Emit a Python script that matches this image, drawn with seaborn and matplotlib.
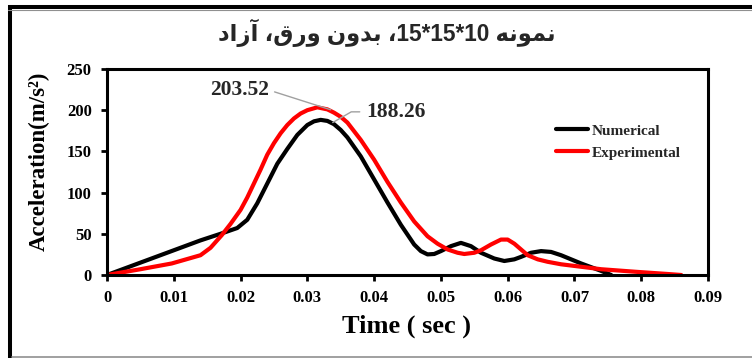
import matplotlib
matplotlib.use("Agg")
import matplotlib.pyplot as plt
import numpy as np
import pandas as pd
import seaborn as sns
from matplotlib.lines import Line2D

# ---- data -----------------------------------------------------------------
num_t = [0, 0.005, 0.01, 0.014, 0.017, 0.0195, 0.021, 0.0225, 0.024, 0.0255,
         0.027, 0.0285, 0.030, 0.031, 0.032, 0.033, 0.034, 0.035, 0.036,
         0.038, 0.040, 0.042, 0.044, 0.046, 0.047, 0.048, 0.049, 0.050,
         0.0515, 0.053, 0.0545, 0.056, 0.058, 0.0595, 0.061, 0.062, 0.0635,
         0.065, 0.0665, 0.068, 0.071, 0.074, 0.0755]
num_a = [0, 15, 30, 42, 50, 57, 67, 87, 111, 135,
         153, 170, 182, 186.5, 188.26, 187, 183, 176, 167,
         144, 116, 88, 61, 37, 29, 25, 25.5, 29,
         35, 39, 35, 27, 20, 17, 19, 22, 27,
         29, 28, 24, 14, 5, 0]

exp_t = [0, 0.005, 0.0097, 0.014, 0.0155, 0.0172, 0.0185, 0.020, 0.021,
         0.022, 0.023, 0.024, 0.025, 0.026, 0.027, 0.028, 0.029, 0.030,
         0.0315, 0.033, 0.034, 0.035, 0.036, 0.038, 0.040, 0.042, 0.044,
         0.046, 0.048, 0.0495, 0.051, 0.0525, 0.0535, 0.055, 0.056, 0.0575,
         0.059, 0.060, 0.061, 0.062, 0.063, 0.0645, 0.066, 0.068, 0.070,
         0.074, 0.079, 0.084, 0.086]
exp_a = [0, 7, 14, 24, 33, 48.5, 62, 79, 94,
         111, 128, 146, 160, 172, 182, 190, 196, 200,
         203.52, 201, 197, 192, 185, 164, 140, 113, 88,
         65, 47, 38, 31, 27, 25.5, 27, 30, 37,
         43, 43, 38, 31, 24, 19, 16, 13, 11,
         7, 4, 1.2, 0]

series_names = ["Numerical", "Experimental"]
series_colors = ["black", "red"]
peak_labels = ["188.26", "203.52"]

x_ticks = [0, 0.01, 0.02, 0.03, 0.04, 0.05, 0.06, 0.07, 0.08, 0.09]
x_tick_labels = ["0", "0.01", "0.02", "0.03", "0.04", "0.05", "0.06", "0.07", "0.08", "0.09"]
y_ticks = [0, 50, 100, 150, 200, 250]

title_text = "نمونه 10*15*15، بدون ورق، آزاد"
x_label = "Time ( sec )"
y_label = "Acceleration(m/s²)"

# ---- simple Arabic shaping (presentation forms, right-to-left) -------------
# letter: (isolated, final, initial, medial); two-form letters do not join left
FORMS = {
    "ن": ("\uFEE5", "\uFEE6", "\uFEE7", "\uFEE8"),
    "م": ("\uFEE1", "\uFEE2", "\uFEE3", "\uFEE4"),
    "و": ("\uFEED", "\uFEEE"),
    "ه": ("\uFEE9", "\uFEEA", "\uFEEB", "\uFEEC"),
    "ب": ("\uFE8F", "\uFE90", "\uFE91", "\uFE92"),
    "د": ("\uFEA9", "\uFEAA"),
    "ر": ("\uFEAD", "\uFEAE"),
    "ق": ("\uFED5", "\uFED6", "\uFED7", "\uFED8"),
    "آ": ("\uFE81", "\uFE82"),
    "ز": ("\uFEAF", "\uFEB0"),
    "ا": ("\uFE8D", "\uFE8E"),
}


def shape_word(word):
    out = []
    for i, ch in enumerate(word):
        f = FORMS[ch]
        prev_joins = i > 0 and len(FORMS[word[i - 1]]) == 4
        next_exists = i < len(word) - 1 and len(f) == 4
        if prev_joins and next_exists:
            out.append(f[3])
        elif prev_joins:
            out.append(f[1])
        elif next_exists:
            out.append(f[2])
        else:
            out.append(f[0])
    return "".join(reversed(out))


def rtl_visual(text):
    tokens, cur, kind = [], "", None
    for ch in text:
        k = "ar" if ch in FORMS else ("num" if ch.isdigit() else "other")
        if k == kind and k != "other":
            cur += ch
        else:
            if cur:
                tokens.append((kind, cur))
            cur, kind = ch, k
    if cur:
        tokens.append((kind, cur))
    parts = [shape_word(t) if k == "ar" else t for k, t in tokens]
    return "".join(reversed(parts))


# ---- figure ---------------------------------------------------------------
sns.set_theme(style="white")
plt.rcParams["font.family"] = ["Liberation Serif", "DejaVu Serif"]
plt.rcParams["font.weight"] = "bold"

df = pd.concat([
    pd.DataFrame({"t": num_t, "a": num_a, "series": series_names[0]}),
    pd.DataFrame({"t": exp_t, "a": exp_a, "series": series_names[1]}),
], ignore_index=True)

fig = plt.figure(figsize=(7.52, 3.58), dpi=100)
ax = fig.add_axes([107 / 752, 83 / 358, 601 / 752, 206 / 358])

sns.lineplot(data=df, x="t", y="a", hue="series",
             palette=dict(zip(series_names, series_colors)),
             sort=False, estimator=None, linewidth=3.0, ax=ax)
for ln in ax.get_lines():
    ln.set_solid_joinstyle("round")
    ln.set_solid_capstyle("round")

ax.set_xlim(0, 0.09)
ax.set_ylim(0, 250)
ax.set_xticks(x_ticks)
ax.set_xticklabels(x_tick_labels, fontsize=12, fontweight="bold")
ax.set_yticks(y_ticks)
ax.set_yticklabels([str(v) for v in y_ticks], fontsize=12, fontweight="bold")
ax.tick_params(axis="both", direction="out", length=4, width=2,
               color="black", pad=7, labelcolor="black")
ax.tick_params(axis="both", bottom=True, left=True)
for sp in ax.spines.values():
    sp.set_visible(True)
    sp.set_color("black")
    sp.set_linewidth(2.2)

ax.set_xlabel(x_label, fontsize=19, fontweight="bold", color="black")
ax.set_ylabel(y_label, fontsize=16.5, fontweight="bold", color="black")
ax.xaxis.set_label_coords(0.499, -0.19)
ax.yaxis.set_label_coords(-0.095, 0.553)

# peak value callouts
ax.annotate(peak_labels[1], xy=(0.0335, 200.5), xytext=(0.0198, 224.5),
            ha="center", va="center", fontsize=15.5, fontweight="bold",
            arrowprops=dict(arrowstyle="-", color="#a0a0a0", lw=1,
                            relpos=(1, 0.5), shrinkA=2, shrinkB=0))
ax.annotate(peak_labels[0], xy=(0.0338, 185), xytext=(0.0432, 198),
            ha="center", va="center", fontsize=15.5, fontweight="bold",
            arrowprops=dict(arrowstyle="-", color="#a0a0a0", lw=1,
                            relpos=(0, 0.5), shrinkA=2, shrinkB=0,
                            connectionstyle="angle,angleA=180,angleB=30,rad=0"))

handles = [Line2D([], [], color=c, lw=3) for c in series_colors]
ax.legend(handles, series_names, loc="upper left", bbox_to_anchor=(0.735, 0.77),
          frameon=False, prop={"size": 11, "weight": "bold"},
          handlelength=2.1, handletextpad=0.2, labelspacing=0.55, borderpad=0)

fig.text(387 / 752, 1 - 33 / 358, rtl_visual(title_text), ha="center", va="center",
         fontsize=16.3, fontweight="bold", family=["Liberation Sans", "DejaVu Sans"])

# outer frame
fig.add_artist(Line2D([10.3 / 752, 10.3 / 752], [0, 1 - 5 / 358], color="black",
                      lw=2.9, transform=fig.transFigure, solid_capstyle="butt"))
fig.add_artist(Line2D([8.3 / 752, 1], [1 - 7 / 358, 1 - 7 / 358], color="black",
                      lw=2.9, transform=fig.transFigure, solid_capstyle="butt"))
fig.add_artist(Line2D([8.3 / 752, 1], [1 - 9.6 / 358, 1 - 9.6 / 358], color="#909090",
                      lw=0.8, transform=fig.transFigure))
fig.add_artist(Line2D([12 / 752, 1], [1.3 / 358, 1.3 / 358], color="#909090",
                      lw=1.2, transform=fig.transFigure))

fig.savefig("out.png", dpi=100)
